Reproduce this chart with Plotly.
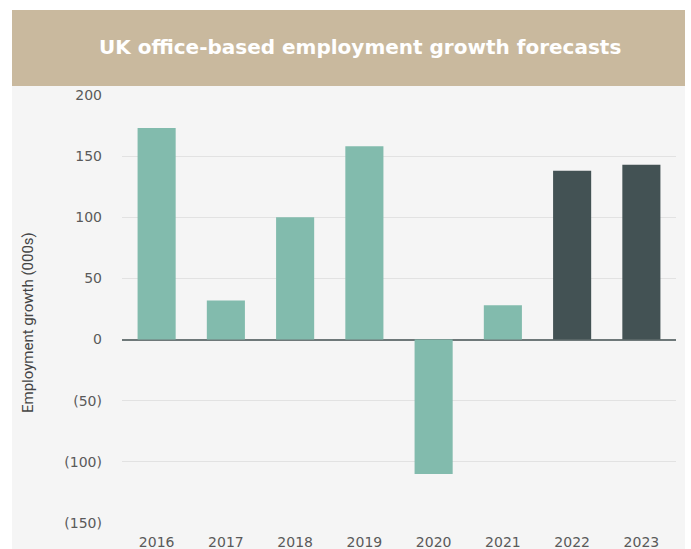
import plotly.graph_objects as go

# Data
years = ["2016", "2017", "2018", "2019", "2020", "2021", "2022", "2023"]
growth = [173, 32, 100, 158, -110, 28, 138, 143]
forecast = [False, False, False, False, False, False, True, True]
tick_values = [200, 150, 100, 50, 0, -50, -100, -150]
tick_labels = ["200", "150", "100", "50", "0", "(50)", "(100)", "(150)"]

W, H = 691, 549
ML, MR, MT, MB = 122, 15, 95, 26
PW, PH = W - ML - MR, H - MT - MB


def px_x(x):
    return (x - ML) / PW


def px_y(y):
    return (H - MB - y) / PH


ACTUAL = "#82BBAD"
FORECAST = "#435254"
TICK_FONT = dict(family="DejaVu Sans, Verdana, sans-serif", size=14, color="#5A5A5A")

fig = go.Figure(
    go.Bar(
        x=years,
        y=growth,
        marker=dict(color=[FORECAST if f else ACTUAL for f in forecast], line_width=0),
        width=0.55,
        hoverinfo="x+y",
    )
)

fig.update_layout(
    width=W,
    height=H,
    margin=dict(l=ML, r=MR, t=MT, b=MB, autoexpand=False),
    paper_bgcolor="white",
    plot_bgcolor="rgba(0,0,0,0)",
    showlegend=False,
    xaxis=dict(
        showgrid=False,
        showline=False,
        ticks="",
        automargin=False,
        ticklabelstandoff=9,
        tickfont=TICK_FONT,
        fixedrange=True,
    ),
    yaxis=dict(
        range=[-150, 200],
        tickvals=tick_values,
        ticktext=tick_labels,
        automargin=False,
        showgrid=True,
        gridcolor="#E2E2E2",
        gridwidth=1,
        zeroline=True,
        zerolinecolor="#6E7879",
        zerolinewidth=2,
        ticks="",
        ticklabelstandoff=19,
        tickfont=TICK_FONT,
        fixedrange=True,
    ),
    shapes=[
        # light grey panel behind the chart
        dict(type="rect", xref="paper", yref="paper", layer="below",
             x0=px_x(12), x1=px_x(685), y0=px_y(560), y1=px_y(86),
             fillcolor="#F5F5F5", line_width=0),
        # title banner
        dict(type="rect", xref="paper", yref="paper", layer="below",
             x0=px_x(12), x1=px_x(685), y0=px_y(86), y1=px_y(10),
             fillcolor="#C9B99E", line_width=0),
    ],
    annotations=[
        dict(text="<b>UK office-based employment growth forecasts</b>",
             xref="paper", yref="paper", x=px_x(360), y=px_y(47),
             xanchor="center", yanchor="middle", showarrow=False,
             font=dict(family="DejaVu Sans, sans-serif", size=20, color="white")),
        dict(text="Employment growth (000s)", textangle=-90,
             xref="paper", yref="paper", x=px_x(28), y=px_y(323),
             xanchor="center", yanchor="middle", showarrow=False,
             font=dict(family="Roboto, sans-serif", size=15, color="#444444")),
    ],
)

fig.write_html("out.html")
